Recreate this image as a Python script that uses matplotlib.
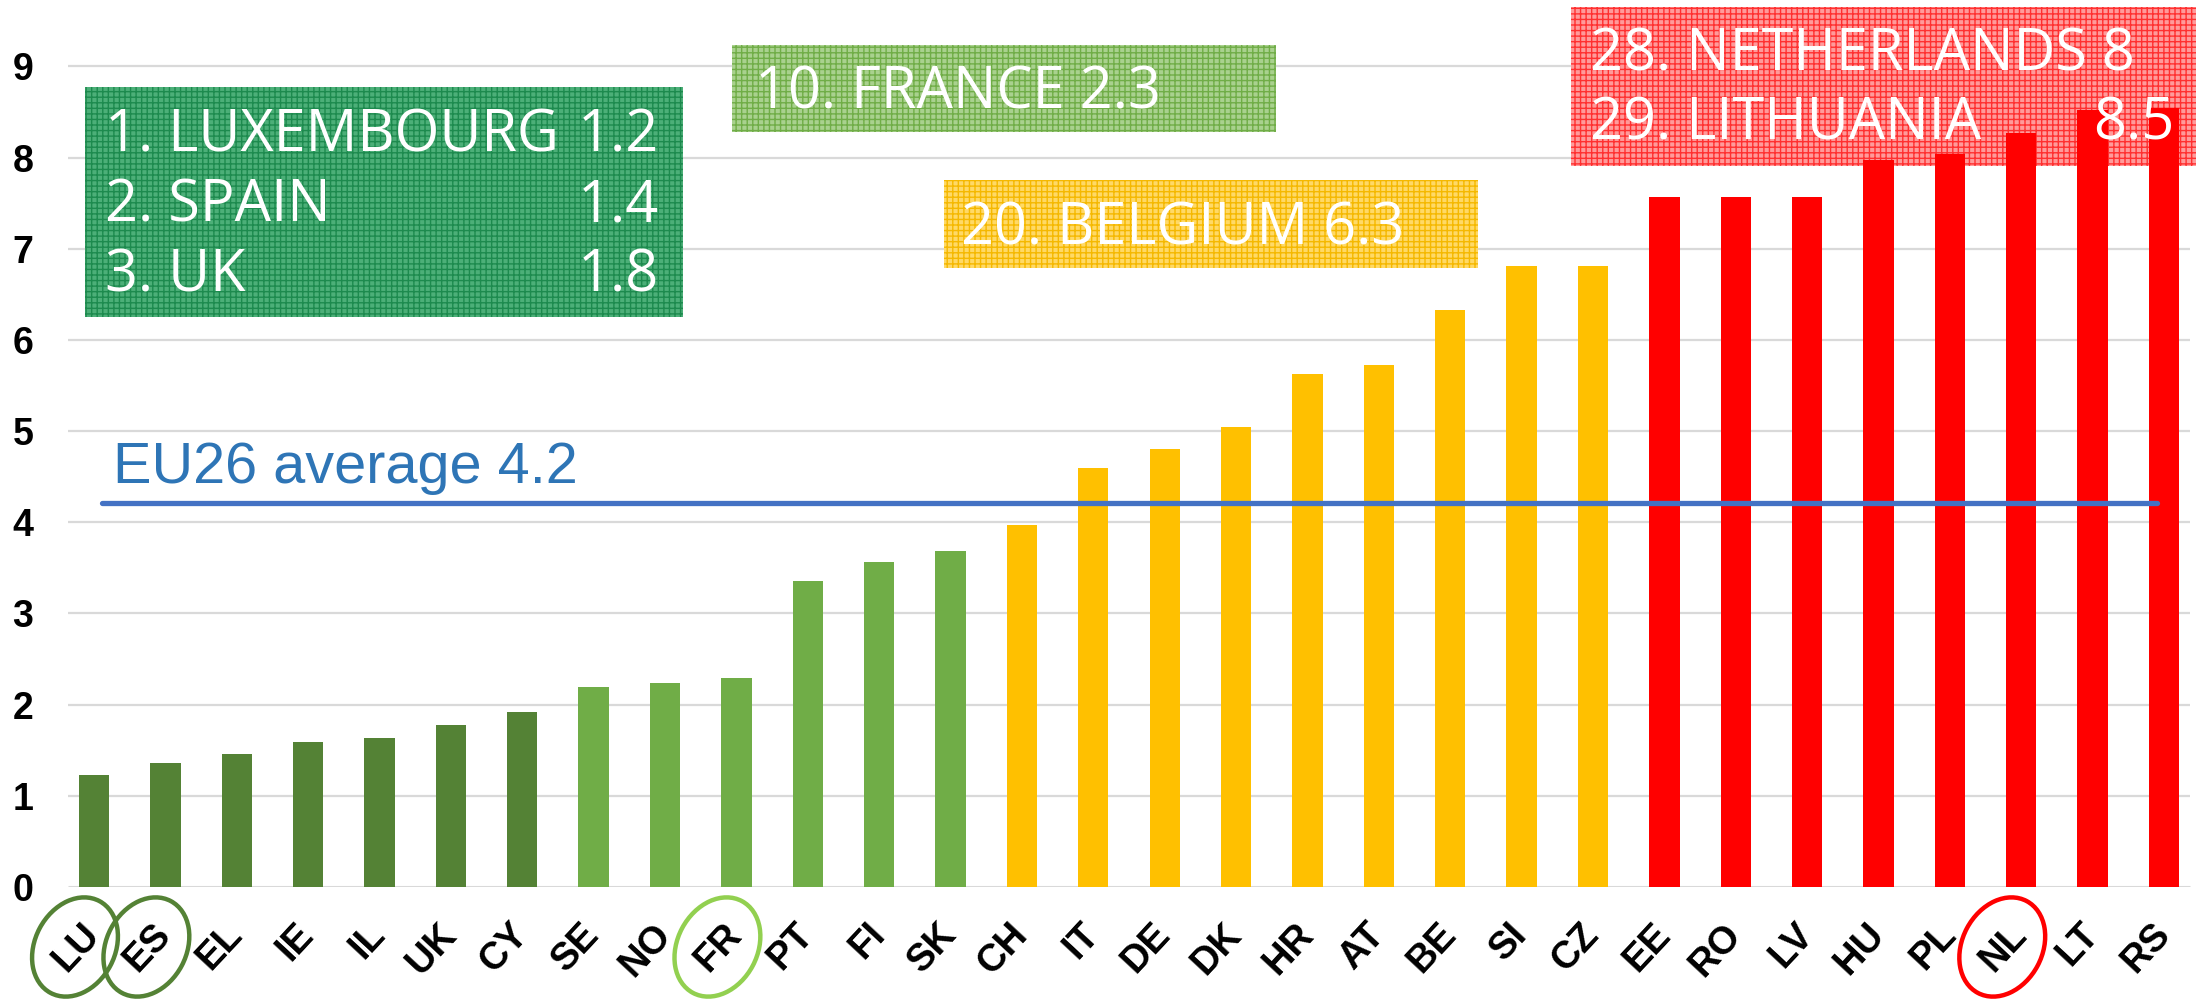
import matplotlib
matplotlib.use("Agg")
import matplotlib.pyplot as plt
from matplotlib.patches import Rectangle, Ellipse
from matplotlib.transforms import ScaledTranslation

# --- data ---
codes = ["LU", "ES", "EL", "IE", "IL", "UK", "CY", "SE", "NO", "FR",
         "PT", "FI", "SK", "CH", "IT", "DE", "DK", "HR", "AT", "BE",
         "SI", "CZ", "EE", "RO", "LV", "HU", "PL", "NL", "LT", "RS"]
values = [1.23, 1.36, 1.46, 1.59, 1.63, 1.78, 1.92, 2.19, 2.24, 2.29,
          3.36, 3.56, 3.69, 3.97, 4.60, 4.80, 5.05, 5.63, 5.72, 6.33,
          6.81, 6.81, 7.57, 7.57, 7.57, 7.97, 8.04, 8.27, 8.52, 8.54]
group_sizes = [7, 6, 9, 8]
group_colors = ["#548235", "#70ad47", "#ffc000", "#ff0000"]
eu_average = 4.21
eu_label = "EU26 average 4.2"
yticks = list(range(10))

top3_names = ["1. LUXEMBOURG", "2. SPAIN", "3. UK"]
top3_vals = ["1.2", "1.4", "1.8"]
france_label = "10. FRANCE 2.3"
belgium_label = "20. BELGIUM 6.3"
bottom_names = ["28. NETHERLANDS 8", "29. LITHUANIA"]
bottom_vals = ["", "8.5"]
circled = {"LU": "#548235", "ES": "#548235", "FR": "#92d050", "NL": "#ff0000"}

# --- layout (pixels of the 2196x999 output) ---
W, H = 2196, 999
X0, DX = 94.0, 71.38     # centre of first bar, bar pitch
Y0, DY = 887.0, 91.18    # zero line, px per unit


def dx(px):
    return (px - X0) / DX


def dy(py):
    return (Y0 - py) / DY


colors = []
for c, n in zip(group_colors, group_sizes):
    colors += [c] * n

fig = plt.figure(figsize=(W / 100, H / 100), dpi=100)
left = X0 - 0.5 * DX
ax = fig.add_axes([left / W, (H - Y0) / H, (W - left) / W, Y0 / H])
ax.set_xlim(-0.5, dx(W))
ax.set_ylim(0, dy(0))
for s in ax.spines.values():
    s.set_visible(False)

x = list(range(len(codes)))
ax.hlines(yticks[1:], dx(68), dx(2190), color="#d9d9d9", lw=1.6, zorder=0.5)
ax.hlines(0, dx(68), dx(2190), color="#d9d9d9", lw=2.2, zorder=1)
ax.bar(x, values, width=0.425, color=colors, zorder=2)

# average line
ax.plot([dx(102), dx(2157)], [eu_average, eu_average], color="#4472c4",
        lw=3.8, solid_capstyle="round", zorder=2.5)
ax.text(dx(113), dy(483), eu_label, fontsize=41.5, color="#2e75b6",
        family="Liberation Sans", va="baseline", ha="left", zorder=3)

# ticks
ax.set_yticks(yticks)
ax.set_yticklabels([str(v) for v in yticks], fontsize=27, fontweight="bold",
                   family="Liberation Sans")
ax.tick_params(axis="y", length=0, pad=18)
ax.set_xticks(x)
ax.set_xticklabels(codes, fontsize=27.5, fontweight="bold", family="Liberation Sans",
                   rotation=47, ha="right", va="center", rotation_mode="anchor")
ax.tick_params(axis="x", length=0, pad=30)


# annotation boxes
def box(x1, y1, x2, y2, face, hatch_col):
    r = Rectangle((dx(x1), dy(y2)), dx(x2) - dx(x1), dy(y1) - dy(y2),
                  facecolor=face, edgecolor=hatch_col, hatch="+++", lw=0,
                  zorder=1.5, clip_on=False)
    ax.add_patch(r)


def label(px, py, s, ha="left"):
    ax.text(dx(px), dy(py), s, color="white", fontsize=41.5, family="Open Sans",
            ha=ha, va="baseline", zorder=3, clip_on=False)


plt.rcParams["hatch.linewidth"] = 1.0

box(85, 87, 683, 317, "#4caf78", "#1d8a4e")
for i, (n, v) in enumerate(zip(top3_names, top3_vals)):
    label(105, 152 + 70 * i, n)
    label(659, 152 + 70 * i, v, ha="right")

box(732, 45, 1276, 132, "#a9d18e", "#70ad47")
label(755, 109, france_label)

box(944, 180, 1478, 268, "#ffd966", "#f5b800")
label(961, 245, belgium_label)

box(1571, 7, W, 166, "#ff9a9a", "#ff3030")
for i, (n, v) in enumerate(zip(bottom_names, bottom_vals)):
    label(1590, 71 + 69 * i, n)
    if v:
        label(2174, 71 + 69 * i, v, ha="right")

# circled country codes
for code, col in circled.items():
    i = codes.index(code)
    tr = fig.dpi_scale_trans + ScaledTranslation(i, 0, ax.transData)
    e = Ellipse((-0.19, -0.6), 0.8, 1.04, angle=-28, transform=tr,
                fill=False, edgecolor=col, lw=3.2, clip_on=False, zorder=4)
    fig.add_artist(e)

fig.savefig("out.png", dpi=100)
